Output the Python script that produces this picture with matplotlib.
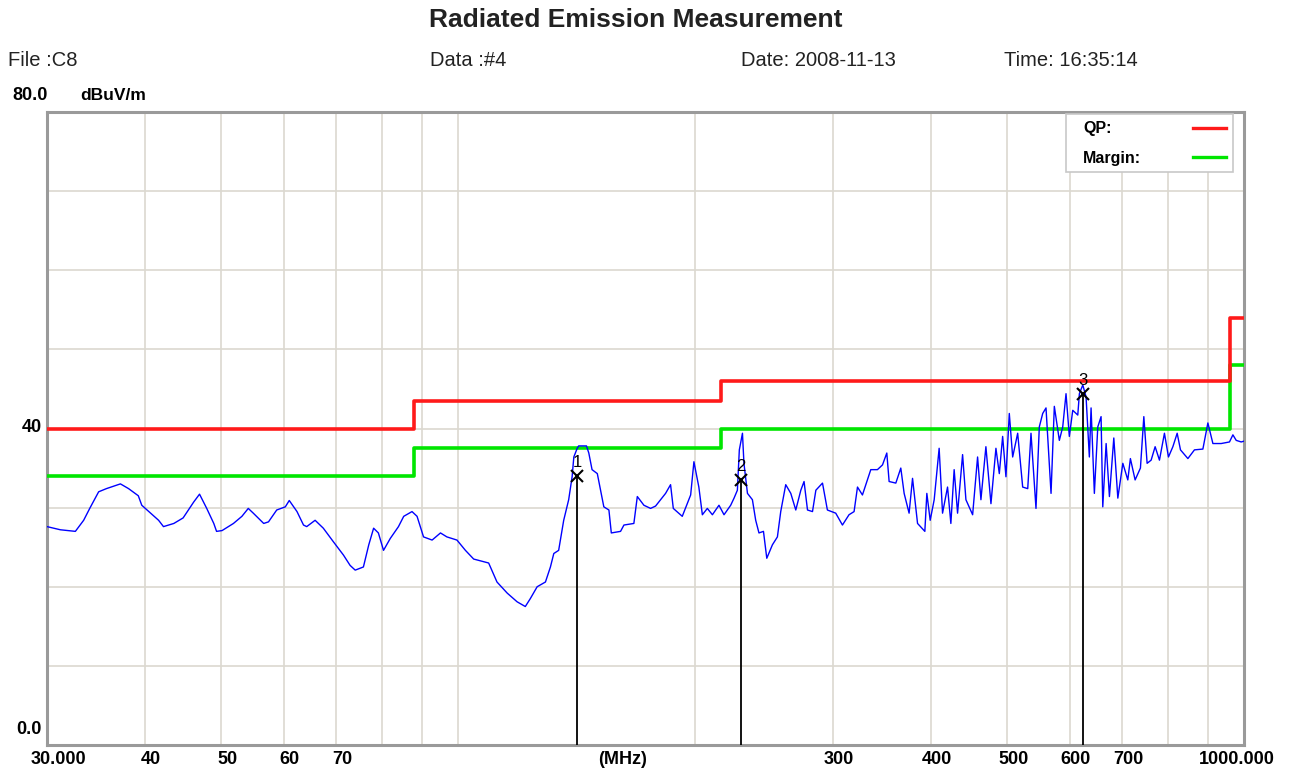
import matplotlib
matplotlib.use("Agg")
import matplotlib.pyplot as plt
from matplotlib.patches import Rectangle
from matplotlib.lines import Line2D

plt.rcParams['font.family'] = ['Liberation Sans', 'DejaVu Sans']

# measured trace (MHz, dBuV/m)
freq_mhz = [30.0, 31.2, 32.6, 33.4, 34.0, 34.9, 35.7, 37.2, 38.1, 39.2,
            39.6, 41.6, 42.2, 43.5, 44.7, 46.1, 46.9, 47.9, 48.9, 49.3,
            50.1, 51.8, 53.1, 54.1, 54.9, 56.6, 57.4, 58.8, 60.3, 61.0,
            62.4, 63.6, 64.2, 65.8, 67.4, 69.4, 71.5, 72.9,
            74.0, 75.8, 77.0, 78.1, 79.2, 80.4, 82.0, 84.0, 85.3, 87.4,
            88.7, 90.4, 92.7, 95.0, 96.8, 99.7, 102.2, 104.7, 109.4, 112.1,
            115.5, 118.9, 121.8, 123.6, 126.1, 129.2, 131.1, 132.4, 134.3, 136.3,
            138.3, 139.7, 140.4, 141.8, 142.4, 145.7, 146.7, 148.1, 150.4, 153.3,
            155.6, 156.7, 161.0, 162.6, 167.4, 169.1, 172.4, 175.8,
            178.4, 183.7, 186.4, 187.9, 192.9, 197.7, 199.6, 202.5, 204.6, 207.6,
            210.7, 214.8, 218.0, 222.3, 224.5, 226.7, 228.0, 230.1, 231.1, 233.5,
            236.9, 239.2, 241.5, 244.7, 247.1, 251.2, 254.9, 257.4, 261.2, 265.1,
            269.0, 273.0, 275.6, 278.4, 282.5, 285.3, 290.9, 295.1, 302.4, 308.4,
            314.4, 319.1, 322.3, 327.0, 335.1, 341.7, 346.8, 351.2, 353.6, 360.6,
            365.9, 369.5, 374.9, 378.7, 384.3, 392.6, 394.9, 398.8,
            403.5, 409.4, 413.5, 419.6, 423.7, 427.8, 432.1, 438.5, 442.8, 451.6,
            458.2, 462.7, 469.5, 476.5, 483.5, 488.3, 493.1, 497.9, 502.8, 507.8,
            515.3, 522.9, 530.7, 535.8, 543.7, 549.0, 554.5, 559.9, 568.2, 573.7,
            582.2, 588.0, 593.7, 599.5, 605.5, 614.5, 617.4, 623.6, 629.6, 635.7,
            638.9, 645.1, 651.6, 657.9, 661.2, 667.7, 674.2, 682.9, 691.0, 701.2,
            711.5, 716.9, 726.9, 738.3, 745.7, 752.9, 761.8, 770.8, 780.6, 792.1,
            801.5, 811.9, 822.2, 830.2, 848.4, 864.9, 886.5, 899.6, 912.9, 935.3,
            958.4, 968.0, 977.4, 991.8, 1000.0]
level_db = [27.6, 27.2, 27.0, 28.4, 29.9, 32.0, 32.4, 33.0, 32.4, 31.5,
            30.3, 28.4, 27.6, 28.0, 28.7, 30.7, 31.7, 29.9, 28.0, 27.0,
            27.1, 28.0, 28.9, 29.9, 29.3, 28.0, 28.2, 29.7, 30.1, 30.9,
            29.5, 27.8, 27.6, 28.4, 27.4, 25.7, 24.0, 22.7,
            22.1, 22.5, 25.3, 27.4, 26.8, 24.6, 26.1, 27.6, 28.9, 29.5,
            28.9, 26.3, 25.9, 26.8, 26.3, 25.9, 24.6, 23.5, 23.0, 20.6,
            19.2, 18.1, 17.5, 18.5, 20.0, 20.6, 22.5, 24.2, 24.6, 28.4,
            31.0, 33.9, 36.4, 37.5, 37.8, 37.8, 36.9, 34.8, 34.3, 30.1,
            29.7, 26.8, 27.0, 27.8, 28.0, 31.4, 30.3, 29.9,
            30.2, 31.8, 32.9, 29.9, 28.9, 31.6, 35.8, 32.6, 29.1, 29.9,
            29.1, 30.3, 29.1, 30.3, 31.2, 32.2, 37.3, 39.4, 35.6, 31.8,
            31.0, 28.4, 26.8, 27.0, 23.6, 25.3, 26.3, 29.5, 32.9, 31.8,
            29.7, 32.2, 33.3, 29.7, 29.5, 32.2, 33.1, 29.7, 29.3, 27.8,
            29.1, 29.5, 32.6, 31.6, 34.8, 34.8, 35.4, 36.9, 33.3, 33.1,
            35.0, 31.8, 29.3, 33.7, 28.0, 27.0, 31.8, 28.4,
            31.0, 37.5, 29.3, 32.6, 28.0, 34.8, 29.3, 36.7, 31.0, 29.1,
            36.4, 31.0, 37.7, 30.5, 37.5, 34.3, 39.0, 33.9, 41.9, 36.4,
            39.4, 32.6, 32.4, 39.4, 29.9, 40.2, 41.9, 42.6, 31.8, 42.8,
            38.5, 40.2, 44.4, 39.0, 42.3, 41.7, 44.4, 45.5, 44.0, 36.4,
            42.6, 31.8, 40.2, 41.5, 30.1, 38.1, 31.4, 38.8, 31.2, 35.6,
            33.5, 36.2, 33.5, 35.0, 41.5, 35.6, 36.0, 37.7, 36.0, 39.4,
            36.4, 37.7, 39.4, 37.3, 36.2, 37.3, 37.4, 40.7, 38.1, 38.1,
            38.3, 39.2, 38.5, 38.3, 38.4]

# limit lines (step starts)
limit_freq = [30, 88, 216, 960, 1000]
qp_limit = [40, 43.5, 46, 54, 54]
margin_limit = [34, 37.5, 40, 48, 48]

# markers
marker_freq = [141.9, 228.9, 624.1]
marker_level = [34.0, 33.5, 44.4]
marker_no = ['1', '2', '3']

grid_freqs = [40, 50, 60, 70, 80, 90, 100, 200, 300, 400, 500, 600, 700, 800, 900]
grid_levels = [10, 20, 30, 40, 50, 60, 70]
xlabels = {30: '30.000', 40: '40', 50: '50', 60: '60', 70: '70', 300: '300',
           400: '400', 500: '500', 600: '600', 700: '700', 1000: '1000.000'}

W, H = 1291, 771
fig = plt.figure(figsize=(W / 100, H / 100), dpi=100)
ax = fig.add_axes([47 / W, 1 - 745 / H, 1197 / W, 633 / H])
ax.set_xscale('log')
ax.set_xlim(30, 1000)
ax.set_ylim(0, 80)
ax.set_xticks([])
ax.set_yticks([])
ax.minorticks_off()

for f in grid_freqs:
    ax.axvline(f, color='#dcd8d0', lw=1.2, zorder=1)
for v in grid_levels:
    ax.axhline(v, color='#dcd8d0', lw=1.2, zorder=1)

for s in ax.spines.values():
    s.set_color('#9a9a9a')
    s.set_linewidth(2.2)

ax.step(limit_freq, margin_limit, where='post', color='#00e600', lw=2.6, zorder=3)
ax.step(limit_freq, qp_limit, where='post', color='#ff1a1a', lw=2.6, zorder=3)
ax.plot(freq_mhz, level_db, color='#0000ff', lw=1.0, zorder=4)

ax.vlines(marker_freq, 0, marker_level, color='black', lw=1.3, zorder=5)
ax.plot(marker_freq, marker_level, 'x', color='black', ms=8, mew=1.5, zorder=6)
for f, v, n in zip(marker_freq, marker_level, marker_no):
    ax.annotate(n, (f, v), xytext=(0, 13), textcoords='offset pixels',
                ha='center', va='center', fontsize=12, zorder=6)

# x tick labels
for f, lab in xlabels.items():
    dx, ha = 6, 'center'
    if f == 30:
        dx, ha = -16, 'left'
    elif f == 1000:
        dx, ha = 31, 'right'
    ax.annotate(lab, (f, 0), xycoords=('data', 'axes fraction'), xytext=(dx, -15),
                textcoords='offset pixels', ha=ha, va='center',
                fontsize=13, fontweight='bold')
ax.annotate('(MHz)', (162, 0), xycoords=('data', 'axes fraction'), xytext=(0, -15),
            textcoords='offset pixels', ha='center', va='center',
            fontsize=13, fontweight='bold')

# y labels
fig.text(42 / W, 1 - 428 / H, '40', ha='right', va='center', fontsize=13, fontweight='bold')
fig.text(42 / W, 1 - 729 / H, '0.0', ha='right', va='center', fontsize=13, fontweight='bold')
fig.text(12 / W, 1 - 95 / H, '80.0', ha='left', va='center', fontsize=13, fontweight='bold')
fig.text(80 / W, 1 - 95 / H, 'dBuV/m', ha='left', va='center', fontsize=12.5, fontweight='bold')

# header
fig.text(636 / W, 1 - 20 / H, 'Radiated Emission Measurement', ha='center', va='center',
         fontsize=19, fontweight='bold', color='#222222')
for x, s in [(8, 'File :C8'), (430, 'Data :#4'), (741, 'Date: 2008-11-13'), (1004, 'Time: 16:35:14')]:
    fig.text(x / W, 1 - 60 / H, s, ha='left', va='center', fontsize=14.5, color='#222222')

# legend box
ax.add_patch(Rectangle((0.8513, 0.9052), 0.1395, 0.0916, transform=ax.transAxes,
                       facecolor='white', edgecolor='#c8c8c8', lw=1.2, zorder=7))
ax.text(0.8655, 0.9747, 'QP:', transform=ax.transAxes, ha='left', va='center',
        fontsize=11.5, fontweight='bold', zorder=8)
ax.text(0.8655, 0.9273, 'Margin:', transform=ax.transAxes, ha='left', va='center',
        fontsize=11.5, fontweight='bold', zorder=8)
ax.add_line(Line2D([0.9574, 0.9850], [0.9747, 0.9747], transform=ax.transAxes,
                   color='#ff1a1a', lw=2.4, zorder=8))
ax.add_line(Line2D([0.9574, 0.9850], [0.9289, 0.9289], transform=ax.transAxes,
                   color='#00e600', lw=2.4, zorder=8))

fig.savefig('out.png', dpi=100)
